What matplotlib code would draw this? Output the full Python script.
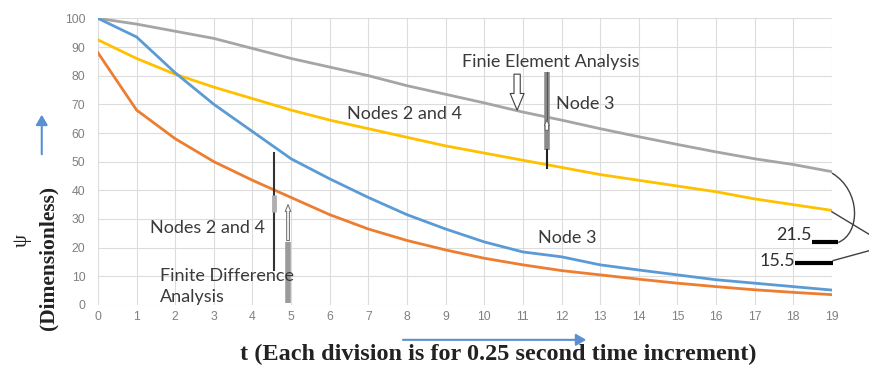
import numpy as np
import matplotlib
matplotlib.use("Agg")
import matplotlib.pyplot as plt
from matplotlib.path import Path
from matplotlib.patches import PathPatch

# time steps (each division = 0.25 s)
t = list(range(20))

# Finite element analysis
fea_node3 = [100, 98, 95.5, 93, 89.5, 86, 83, 80, 76.5, 73.5, 70.5, 67.3, 64.5, 61.5, 58.7,
             56, 53.4, 51, 49, 46.5]
fea_nodes24 = [92.5, 86, 80.5, 76, 72, 68, 64.5, 61.5, 58.5, 55.5, 53, 50.5, 48, 45.5, 43.5,
               41.5, 39.5, 37, 35, 33]
# Finite difference analysis
fda_node3 = [100, 93.5, 81, 70, 60.5, 51, 44, 37.5, 31.5, 26.5, 22, 18.5, 16.8, 14, 12.2,
             10.5, 8.8, 7.6, 6.4, 5.2]
fda_nodes24 = [88, 68, 58, 50, 43.5, 37.5, 31.5, 26.5, 22.5, 19.2, 16.3, 14, 12, 10.5, 9,
               7.6, 6.4, 5.3, 4.4, 3.6]

yticks = list(range(0, 101, 10))

fig = plt.figure(figsize=(8.7, 3.67), dpi=100)
ax = fig.add_axes([0.1126, 0.169, 0.8437, 0.781])

ax.plot(t, fea_node3, color="#a5a5a5", lw=2)
ax.plot(t, fea_nodes24, color="#ffc000", lw=2)
ax.plot(t, fda_node3, color="#5b9bd5", lw=2)
ax.plot(t, fda_nodes24, color="#ed7d31", lw=2)

ax.set_xlim(0, 19)
ax.set_ylim(0, 100)
ax.set_xticks(t)
ax.set_yticks(yticks)
ax.grid(True, color="#dcdcdc", lw=0.8)
ax.set_axisbelow(True)
for s in ax.spines.values():
    s.set_visible(False)
ax.tick_params(length=0, labelsize=8.8, labelcolor="#808080")
ax.tick_params(axis="y", pad=9)
ax.tick_params(axis="x", pad=4)
for lab in ax.get_xticklabels() + ax.get_yticklabels():
    lab.set_family("Liberation Sans")

# annotation texts
tf = dict(family="Lato", fontsize=13, color="#3a3a3a", va="center")
ax.text(9.42, 84.7, "Finie Element Analysis", **tf)
ax.text(6.45, 66.5, "Nodes 2 and 4", **tf)
ax.text(11.86, 70, "Node 3", **tf)
ax.text(1.35, 26.8, "Nodes 2 and 4", **tf)
ax.text(11.39, 23.3, "Node 3", **tf)
ax.text(1.6, 10.1, "Finite Difference", **tf)
ax.text(1.6, 2.8, "Analysis", **tf)
ax.text(18.48, 24.3, "21.5", family="Lato", fontsize=13, color="#303030", ha="right", va="center")
ax.text(18.04, 15.2, "15.5", family="Lato", fontsize=13, color="#303030", ha="right", va="center")
ax.plot([18.48, 19.16], [21.8, 21.8], color="black", lw=3, solid_capstyle="butt", clip_on=False)
ax.plot([18.04, 19.03], [14.8, 14.8], color="black", lw=3, solid_capstyle="butt", clip_on=False)

# brace-like lines on the right
verts = [(19.0, 46.0), (19.75, 40.0), (19.75, 25.0), (19.16, 21.8)]
curve = PathPatch(Path(verts, [Path.MOVETO, Path.CURVE4, Path.CURVE4, Path.CURVE4]),
                  fc="none", ec="#404040", lw=1, clip_on=False)
ax.add_patch(curve)
ax.plot([19.0, 19.98], [32.5, 24.5], color="#404040", lw=1, clip_on=False)
ax.plot([19.03, 19.98], [15.5, 19.0], color="#404040", lw=1, clip_on=False)

# FEA markers
ax.annotate("", xy=(10.85, 67.0), xytext=(10.85, 81.5),
            arrowprops=dict(arrowstyle="simple,head_length=1.2,head_width=1.0,tail_width=0.45",
                            fc="white", ec="#404040", lw=0.8))
ax.plot([11.62, 11.62], [81.2, 54.0], color="#8a8a8a", lw=4, solid_capstyle="butt")
ax.plot([11.62, 11.62], [81.2, 65.0], color="#555555", lw=0.8)
ax.plot([11.62, 11.62], [54.0, 47.8], color="#222222", lw=1.5)
ax.annotate("", xy=(11.62, 65.5), xytext=(11.62, 60.0),
            arrowprops=dict(arrowstyle="simple,head_length=0.4,head_width=0.35,tail_width=0.25",
                            fc="white", ec="#555555", lw=0.6))

# FDA markers
ax.plot([4.56, 4.56], [53.0, 12.2], color="#333333", lw=1.5)
ax.plot([4.56, 4.56], [38.3, 32.4], color="#b0b0b0", lw=3.5, solid_capstyle="butt")
ax.plot([4.92, 4.92], [22.0, 0.8], color="#9a9a9a", lw=4, solid_capstyle="butt", clip_on=False)
ax.annotate("", xy=(4.92, 36.0), xytext=(4.92, 21.5),
            arrowprops=dict(arrowstyle="simple,head_length=0.5,head_width=0.4,tail_width=0.2",
                            fc="white", ec="#777777", lw=0.8))

# axis titles
fig.text(0.025, 0.345, "ψ", rotation=90, family="Liberation Serif", fontsize=15,
         ha="center", va="center", color="#222222")
fig.text(0.056, 0.298, "(Dimensionless)", rotation=90, family="Liberation Serif",
         fontweight="bold", fontsize=15.5, ha="center", va="center", color="#222222")
fig.text(0.573, 0.033, "t (Each division is for 0.25 second time increment)",
         family="Liberation Serif", fontweight="bold", fontsize=17.5, ha="center",
         va="center", color="#222222")

# blue arrows
fig.patches.append(matplotlib.patches.FancyArrowPatch(
    (0.048, 0.572), (0.048, 0.695), transform=fig.transFigure, arrowstyle="-|>,head_length=6,head_width=3.5",
    color="#5b8fd0", lw=1.5))
fig.patches.append(matplotlib.patches.FancyArrowPatch(
    (0.46, 0.074), (0.677, 0.074), transform=fig.transFigure, arrowstyle="-|>,head_length=6,head_width=3.5",
    color="#5b8fd0", lw=1.5))

fig.savefig("out.png", dpi=100)
